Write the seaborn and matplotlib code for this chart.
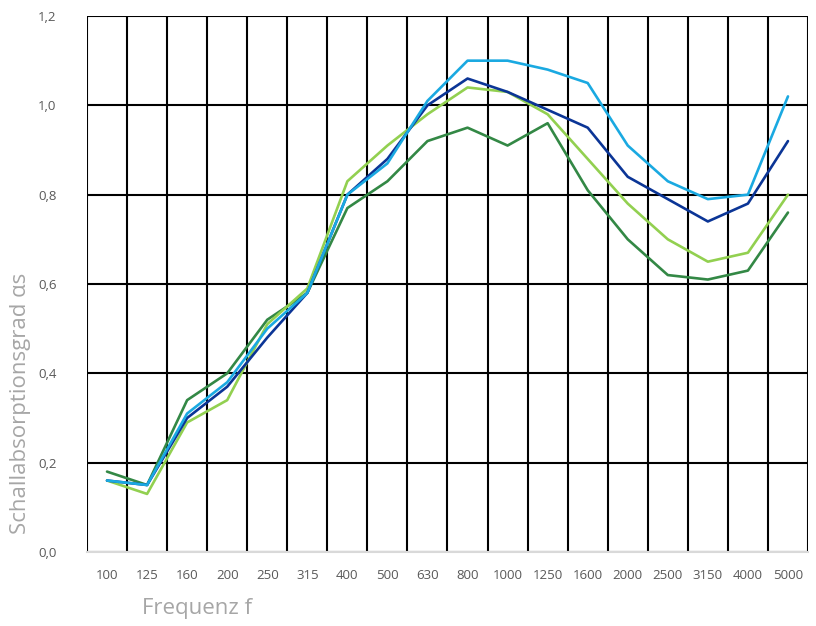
import pandas as pd
import matplotlib
matplotlib.use("Agg")
import matplotlib.pyplot as plt
import seaborn as sns
import numpy as np

# --- Data ---
frequencies = ['100', '125', '160', '200', '250', '315', '400', '500', '630',
               '800', '1000', '1250', '1600', '2000', '2500', '3150', '4000', '5000']

series_light_blue = [0.16, 0.15, 0.31, 0.38, 0.50, 0.58, 0.80, 0.87, 1.01,
                     1.10, 1.10, 1.08, 1.05, 0.91, 0.83, 0.79, 0.80, 1.02]
series_dark_blue = [0.16, 0.15, 0.30, 0.37, 0.48, 0.58, 0.80, 0.88, 1.00,
                    1.06, 1.03, 0.99, 0.95, 0.84, 0.79, 0.74, 0.78, 0.92]
series_light_green = [0.16, 0.13, 0.29, 0.34, 0.51, 0.59, 0.83, 0.91, 0.98,
                      1.04, 1.03, 0.98, 0.88, 0.78, 0.70, 0.65, 0.67, 0.80]
series_dark_green = [0.18, 0.15, 0.34, 0.40, 0.52, 0.58, 0.77, 0.83, 0.92,
                     0.95, 0.91, 0.96, 0.81, 0.70, 0.62, 0.61, 0.63, 0.76]

series_names = ['A', 'B', 'C', 'D']
palette = {'A': '#1AA9E1', 'B': '#0B3596', 'C': '#92D050', 'D': '#338845'}

rows = []
for name, vals in zip(series_names, [series_light_blue, series_dark_blue,
                                     series_light_green, series_dark_green]):
    for f, v in zip(frequencies, vals):
        rows.append({'Frequenz': f, 'alpha': v, 'Serie': name})
df = pd.DataFrame(rows)

# --- Plot ---
sns.set_theme(style="white")
plt.rcParams['font.family'] = ['Open Sans', 'DejaVu Sans']

fig = plt.figure(figsize=(8.16, 6.26), dpi=100)
ax = fig.add_axes([87 / 816, 74 / 626, 721 / 816, 536 / 626])

# draw in reverse so the light blue line ends on top
for name in series_names[::-1]:
    sns.lineplot(data=df[df['Serie'] == name], x='Frequenz', y='alpha',
                 color=palette[name], linewidth=1.9, ax=ax, legend=False,
                 sort=False)

ax.set_xlim(-0.5, len(frequencies) - 0.5)
ax.set_ylim(0, 1.2)
ax.set_yticks(np.arange(0, 1.21, 0.2))
ax.set_yticklabels([f"{v:.1f}".replace('.', ',') for v in np.arange(0, 1.21, 0.2)])
ax.set_xticks(range(len(frequencies)))
ax.set_xticklabels(frequencies)

# grid: vertical lines between categories, horizontal at major ticks
ax.set_xticks(np.arange(-0.5, len(frequencies), 1.0), minor=True)
ax.grid(False)
ax.grid(which='minor', axis='x', color='black', linewidth=1.5)
ax.grid(which='major', axis='y', color='black', linewidth=1.5)
ax.set_axisbelow(True)

ax.tick_params(axis='both', which='both', length=0, labelsize=9.5,
               colors='#595959')
ax.tick_params(axis='x', pad=12)
ax.tick_params(axis='y', pad=22)

for side in ['top', 'right', 'left']:
    ax.spines[side].set_visible(False)
ax.spines['bottom'].set_color('#D9D9D9')
ax.spines['bottom'].set_linewidth(1.5)

ax.set_xlabel('Frequenz f', fontsize=16, color='#A6A6A6')
ax.set_ylabel('Schallabsorptionsgrad αs', fontsize=16, color='#A6A6A6')
ax.xaxis.set_label_coords(0.153, -0.086)
ax.yaxis.set_label_coords(-0.078, 0.278)

fig.savefig('out.png', dpi=100)
